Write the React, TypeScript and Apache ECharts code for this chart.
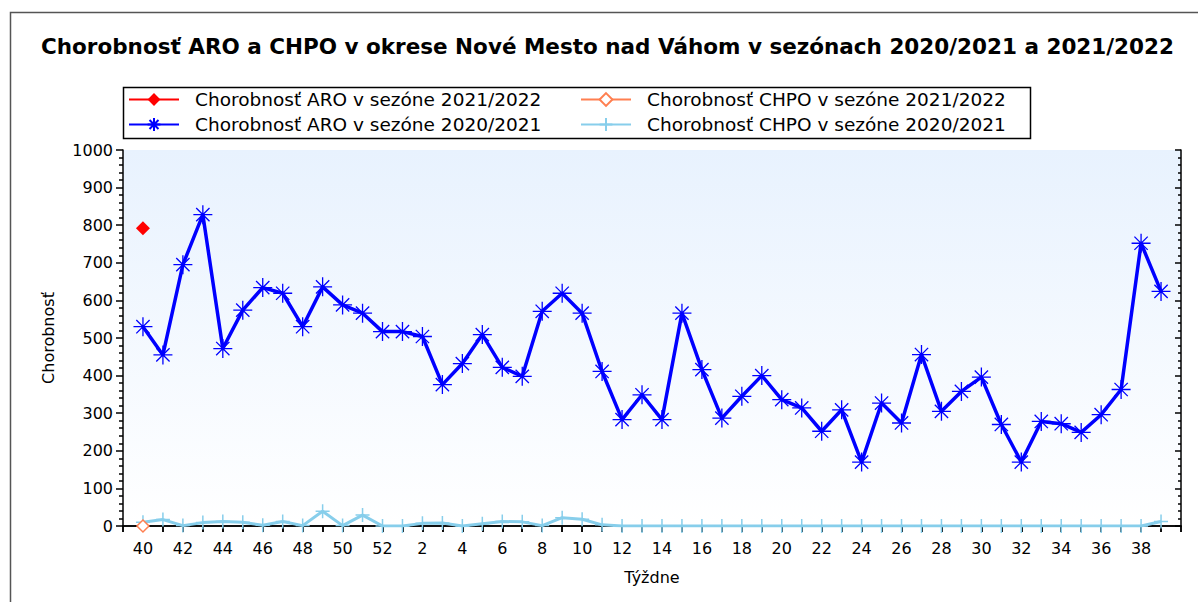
import React, { useEffect, useRef } from "react";
import * as echarts from "echarts";

const weeks: string[] = [
  "40","41","42","43","44","45","46","47","48","49","50","51","52",
  "1","2","3","4","5","6","7","8","9","10","11","12","13","14","15","16","17","18","19","20",
  "21","22","23","24","25","26","27","28","29","30","31","32","33","34","35","36","37","38","39",
];

const aro2122: (number | null)[] = [792];
const chpo2122: (number | null)[] = [0];

const aro2021: number[] = [
  530, 455, 695, 828, 472, 574, 634, 619, 530, 636, 588, 566, 517,
  517, 504, 376, 432, 509, 422, 398, 571, 619, 566, 411, 283, 349, 283, 566, 416, 287, 345, 400, 336,
  314, 252, 309, 170, 327, 274, 456, 305, 358, 396, 270, 170, 278, 272, 249, 296, 363, 752, 624,
];

const chpo2021: number[] = [
  10, 17, 1, 9, 12, 10, 2, 12, 1, 39, 1, 29, 0,
  0, 7, 8, 0, 6, 12, 11, 1, 22, 18, 3, 0, 0, 0, 0, 0, 0, 0, 0, 0,
  0, 0, 0, 0, 0, 0, 0, 0, 0, 0, 0, 0, 0, 0, 0, 0, 0, 0, 12,
];

const yTicks = { min: 0, max: 1000, interval: 100 };

const seriesNames = [
  "Chorobnosť ARO v sezóne 2021/2022",
  "Chorobnosť CHPO v sezóne 2021/2022",
  "Chorobnosť ARO v sezóne 2020/2021",
  "Chorobnosť CHPO v sezóne 2020/2021",
];

const title = "Chorobnosť ARO a CHPO v okrese Nové Mesto nad Váhom v sezónach 2020/2021 a 2021/2022";

const FONT = "DejaVu Sans";

function pad(arr: (number | null)[]): (number | null)[] {
  const out: (number | null)[] = [null];
  for (let i = 0; i < weeks.length; i++) out.push(i < arr.length ? arr[i] : null);
  out.push(null);
  return out;
}

export default function App() {
  const ref = useRef<HTMLDivElement>(null);
  useEffect(() => {
    document.body.style.margin = "0";
    const chart = echarts.init(ref.current!, undefined, { renderer: "svg" });
    const cats = ["", ...weeks, ""];
    const asterisk = "path://M10,0 L10,20 M0,10 L20,10 M3,3 L17,17 M3,17 L17,3";
    const plus = "path://M10,0 L10,20 M0,10 L20,10";
    const axisLine = { show: true, lineStyle: { color: "#000", width: 1.5 } };
    const legendBase = {
      orient: "vertical",
      top: 90,
      padding: 0,
      itemGap: 6,
      itemWidth: 50,
      itemHeight: 16,
      textStyle: { fontFamily: FONT, fontSize: 18.5, color: "#000", padding: [0, 0, 0, 11] },
    };
    chart.setOption({
      animation: false,
      backgroundColor: "#fff",
      textStyle: { fontFamily: FONT },
      title: {
        text: title,
        left: 36,
        top: 30,
        textStyle: { fontFamily: FONT, fontWeight: "bold", fontSize: 21.5, color: "#000" },
      },
      graphic: [
        {
          type: "rect",
          shape: { x: 10.5, y: 12.5, width: 1220, height: 620 },
          style: { fill: "none", stroke: "#555", lineWidth: 1.5 },
          silent: true,
        },
        {
          type: "rect",
          shape: { x: 123.5, y: 87.5, width: 907, height: 51 },
          style: { fill: "none", stroke: "#000", lineWidth: 1.5 },
          silent: true,
        },
      ],
      legend: [
        { ...legendBase, left: 128, data: [seriesNames[0], seriesNames[2]] },
        { ...legendBase, left: 580, data: [seriesNames[1], seriesNames[3]] },
      ],
      grid: {
        left: 123,
        top: 150,
        right: 17,
        bottom: 76,
        show: true,
        borderWidth: 0,
        backgroundColor: new echarts.graphic.LinearGradient(0, 0, 0, 1, [
          { offset: 0, color: "#e8f2fe" },
          { offset: 1, color: "#ffffff" },
        ]),
      },
      xAxis: [
        {
          type: "category",
          data: cats,
          boundaryGap: false,
          axisLine,
          axisTick: { show: true, interval: 0, length: 6, lineStyle: { color: "#000", width: 1.5 } },
          axisLabel: {
            interval: (i: number, v: string) => i % 2 === 1 && v !== "",
            fontFamily: FONT,
            fontSize: 16,
            color: "#000",
            margin: 14,
          },
          name: "Týždne",
          nameLocation: "middle",
          nameGap: 43,
          nameTextStyle: { fontFamily: FONT, fontSize: 16, color: "#000" },
          splitLine: { show: false },
        },
        {
          type: "category",
          data: cats,
          boundaryGap: false,
          position: "top",
          axisLine,
          axisTick: { show: true, inside: true, interval: 0, length: 6, lineStyle: { color: "#000", width: 1.5 } },
          axisLabel: { show: false },
          splitLine: { show: false },
        },
      ],
      yAxis: [
        {
          type: "value",
          ...yTicks,
          axisLine,
          axisTick: { show: true, length: 7, lineStyle: { color: "#000", width: 1.5 } },
          minorTick: { show: true, splitNumber: 5, length: 4, lineStyle: { color: "#000", width: 1.5 } },
          axisLabel: {
            fontFamily: FONT,
            fontSize: 16,
            color: "#000",
            margin: 10,
            formatter: (v: number) => String(v),
          },
          splitLine: { show: false },
          name: "Chorobnosť",
          nameLocation: "middle",
          nameGap: 67,
          nameTextStyle: { fontFamily: FONT, fontSize: 16, color: "#000" },
        },
        {
          type: "value",
          ...yTicks,
          position: "right",
          axisLine,
          axisTick: { show: true, inside: true, length: 6, lineStyle: { color: "#000", width: 1.5 } },
          minorTick: { show: true, splitNumber: 5, length: 3, lineStyle: { color: "#000", width: 1.5 } },
          axisLabel: { show: false },
          splitLine: { show: false },
        },
      ],
      series: [
        {
          name: seriesNames[3],
          type: "line",
          data: pad(chpo2021),
          symbol: plus,
          symbolSize: 14,
          showAllSymbol: true,
          lineStyle: { color: "#87ceeb", width: 3 },
          itemStyle: { color: "#87ceeb", borderColor: "#87ceeb", borderWidth: 1.5 },
          z: 2,
        },
        {
          name: seriesNames[2],
          type: "line",
          data: pad(aro2021),
          symbol: asterisk,
          symbolSize: 19,
          showAllSymbol: true,
          lineStyle: { color: "#0000ff", width: 3.5 },
          itemStyle: { color: "#0000ff", borderColor: "#0000ff", borderWidth: 1.3 },
          z: 3,
        },
        {
          name: seriesNames[1],
          type: "line",
          data: pad(chpo2122),
          symbol: "diamond",
          symbolSize: 12,
          showAllSymbol: true,
          lineStyle: { color: "#ff7f50", width: 3 },
          itemStyle: { color: "#ffffff", borderColor: "#ff7f50", borderWidth: 1.5 },
          z: 4,
        },
        {
          name: seriesNames[0],
          type: "line",
          data: pad(aro2122),
          symbol: "diamond",
          symbolSize: 14,
          showAllSymbol: true,
          lineStyle: { color: "#ff0000", width: 3 },
          itemStyle: { color: "#ff0000" },
          z: 5,
        },
      ],
    });
    return () => chart.dispose();
  }, []);
  return <div ref={ref} style={{ width: 1198, height: 602 }} />;
}
